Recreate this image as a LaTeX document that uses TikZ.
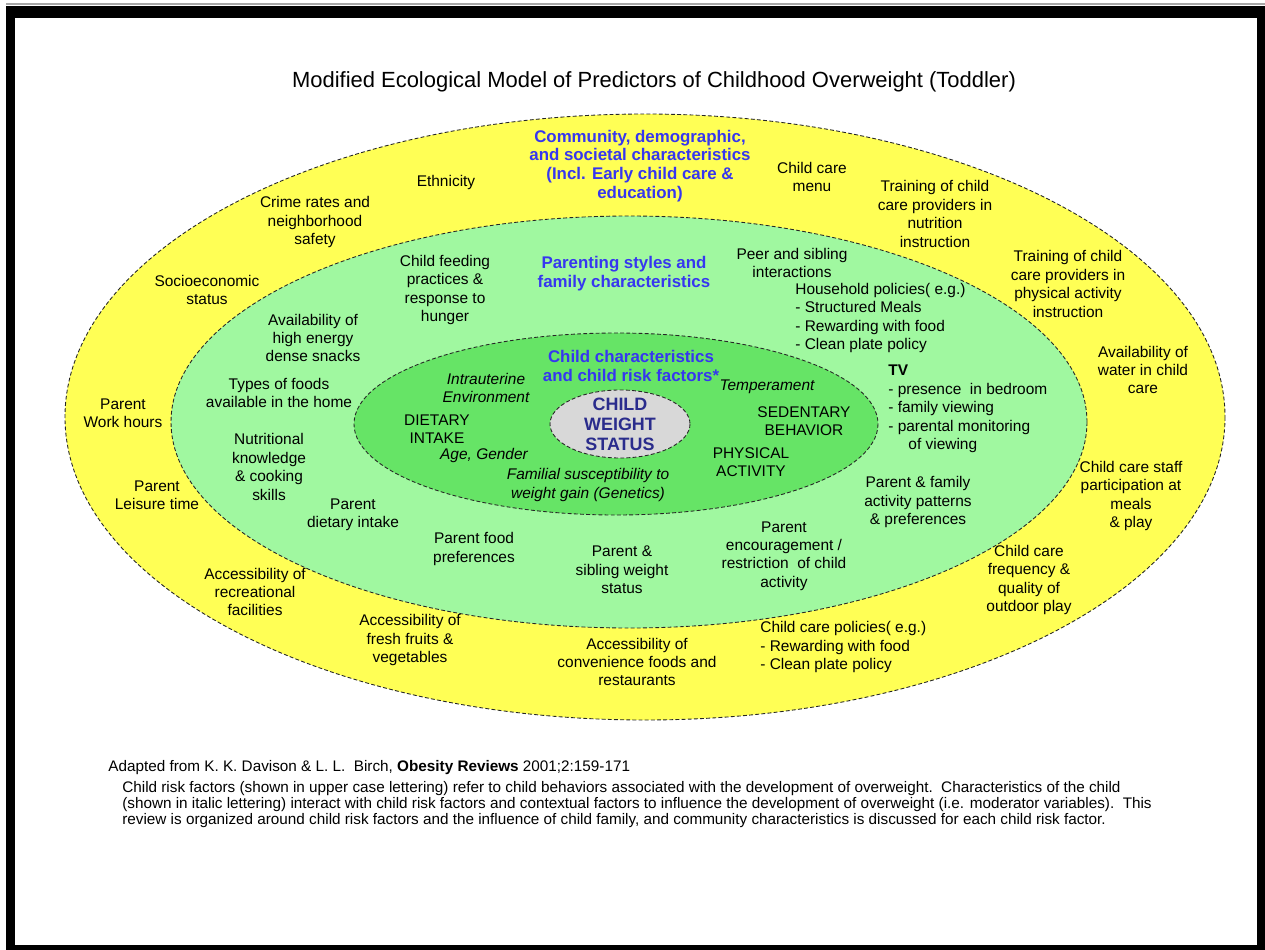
\documentclass[tikz,border=0pt]{standalone}
\usepackage{fontspec}
\setmainfont{Liberation Sans}
\usetikzlibrary{positioning}

\definecolor{ringyellow}{HTML}{FFFF55}
\definecolor{ringlight}{HTML}{A0F8A0}
\definecolor{ringinner}{HTML}{66E466}
\definecolor{coregrey}{HTML}{D8D8D8}
\definecolor{hdrblue}{HTML}{3636F0}
\definecolor{corenavy}{HTML}{2A2C8C}

\newcommand{\lblfont}{\fontsize{8.8}{10.5}\selectfont}
\newcommand{\hdrfont}{\fontsize{9.6}{10.7}\selectfont\bfseries}
\newcommand{\notefont}{\fontsize{8.7}{9.1}\selectfont}

\tikzset{
  ring/.style={draw=black!85, dash pattern=on 2.2pt off 1.3pt, line width=0.5pt},
  lbl/.style={font=\lblfont, align=center, inner sep=0pt},
  lstlbl/.style={lbl, align=left, anchor=west},
  hdr/.style={lbl, font=\hdrfont, text=hdrblue},
  itl/.style={lbl, font=\lblfont\itshape},
}

\begin{document}
\begin{tikzpicture}[x=0.02cm, y=-0.02cm]
  \useasboundingbox (0,0) rectangle (1265,950);
  % frame of the scanned page
  \fill[white] (0,0) rectangle (1265,950);
  \draw[black!35, line width=0.6pt] (6,4) -- (1265,4);
  \fill[black] (6,6) rectangle (1265,950);
  \fill[white] (15,18) rectangle (1257,945);

  \node[font=\fontsize{12.5}{14}\selectfont] (title) at (654,82)
    {Modified Ecological Model of Predictors of Childhood Overweight (Toddler)};

  % the three rings and the core
  \draw[ring, fill=ringyellow] (645,417) ellipse [x radius=580, y radius=303];
  \draw[ring, fill=ringlight] (629,422) ellipse [x radius=458, y radius=206];
  \draw[ring, fill=ringinner] (616,424) ellipse [x radius=262, y radius=91];
  \draw[ring, fill=coregrey] (620,424) ellipse [x radius=70, y radius=34];

  % outer ring: community
  \node[hdr] (commhdr) at (640,166) {Community, demographic,\\and societal characteristics\\(Incl. Early child care \&\\education)};
  \node[lbl] (ethnicity) at (446,183) {Ethnicity};
  \node[lbl] (crime) at (315,222) {Crime rates and\\neighborhood\\safety};
  \node[lbl] (socio) at (207,290) {Socioeconomic\\status};
  \node[lbl] (workhrs) at (123,413) {Parent\\Work hours};
  \node[lbl] (leisure) at (157,495) {Parent\\Leisure time};
  \node[lbl] (accrec) at (255,592) {Accessibility of\\recreational\\facilities};
  \node[lbl] (accfruit) at (410,640) {Accessibility of\\fresh fruits \&\\vegetables};
  \node[lbl] (accconv) at (637,662) {Accessibility of\\convenience foods and\\restaurants};
  \node[lstlbl] (ccpolicy) at (760,647) {Child care policies( e.g.)\\- Rewarding with food\\- Clean plate policy};
  \node[lbl] (ccoutdoor) at (1029,580) {Child care\\frequency \&\\quality of\\outdoor play};
  \node[lbl] (ccstaff) at (1131,496) {Child care staff\\participation at\\meals\\\& play};
  \node[lbl] (water) at (1143,370) {Availability of\\water in child\\care};
  \node[lbl] (trainpa) at (1068,284) {Training of child\\care providers in\\physical activity\\instruction};
  \node[lbl] (trainnut) at (935,214) {Training of child\\care providers in\\nutrition\\instruction};
  \node[lbl] (ccmenu) at (812,177) {Child care\\menu};

  % middle ring: parenting and family
  \node[hdr] (parhdr) at (624,274) {Parenting styles and\\family characteristics};
  \node[lbl] (feeding) at (445,290) {Child feeding\\practices \&\\response to\\hunger};
  \node[lbl] (snacks) at (313,338) {Availability of\\high energy\\dense snacks};
  \node[lbl] (foodtypes) at (279,393) {Types of foods\\available in the home};
  \node[lbl] (nutrknow) at (269,467) {Nutritional\\knowledge\\\& cooking\\skills};
  \node[lbl] (pardiet) at (353,515) {Parent\\dietary intake};
  \node[lbl] (parfood) at (474,549) {Parent food\\preferences};
  \node[lbl] (sibweight) at (622,570) {Parent \&\\sibling weight\\status};
  \node[lbl] (parenc) at (784,556) {Parent\\encouragement /\\restriction\ \ of child\\activity};
  \node[lbl] (famact) at (918,502) {Parent \& family\\activity patterns\\\& preferences};
  \node[lstlbl] (tv) at (888,409) {\textbf{TV}\\- presence\ \ in bedroom\\- family viewing\\- parental monitoring\\\hspace*{1.3em}of viewing};
  \node[lbl] (peer) at (792,263) {Peer and sibling\\interactions};
  \node[lstlbl] (household) at (795,318) {Household policies( e.g.)\\- Structured Meals\\- Rewarding with food\\- Clean plate policy};

  % inner ring: the child
  \node[hdr] (childhdr) at (631,366) {Child characteristics\\and child risk factors*};
  \node[itl] (intraut) at (486,388) {Intrauterine\\Environment};
  \node[lbl] (dietary) at (437,429) {DIETARY\\INTAKE};
  \node[itl] (agegender) at (484,455) {Age, Gender};
  \node[itl] (familial) at (588,485) {Familial susceptibility to\\weight gain (Genetics)};
  \node[itl] (temper) at (767,387) {Temperament};
  \node[lbl] (sedentary) at (804,421) {SEDENTARY\\BEHAVIOR};
  \node[lbl] (physical) at (751,462) {PHYSICAL\\ACTIVITY};
  \node[lbl, font=\fontsize{10.2}{11.3}\selectfont\bfseries, text=corenavy] (cws) at (620,424) {CHILD\\WEIGHT\\STATUS};

  % source and note
  \node[lbl, anchor=west, font=\notefont] (source) at (108,768)
    {Adapted from K. K. Davison \& L. L.\ \ Birch, \textbf{Obesity Reviews} 2001;2:159-171};
  \node[lbl, align=left, anchor=north west, font=\notefont] (note) at (122,781)
    {Child risk factors (shown in upper case lettering) refer to child behaviors associated with the development of overweight.\ \ Characteristics of the child\\
     (shown in italic lettering) interact with child risk factors and contextual factors to influence the development of overweight (i.e. moderator variables).\ \ This\\
     review is organized around child risk factors and the influence of child family, and community characteristics is discussed for each child risk factor.};
\end{tikzpicture}
\end{document}
